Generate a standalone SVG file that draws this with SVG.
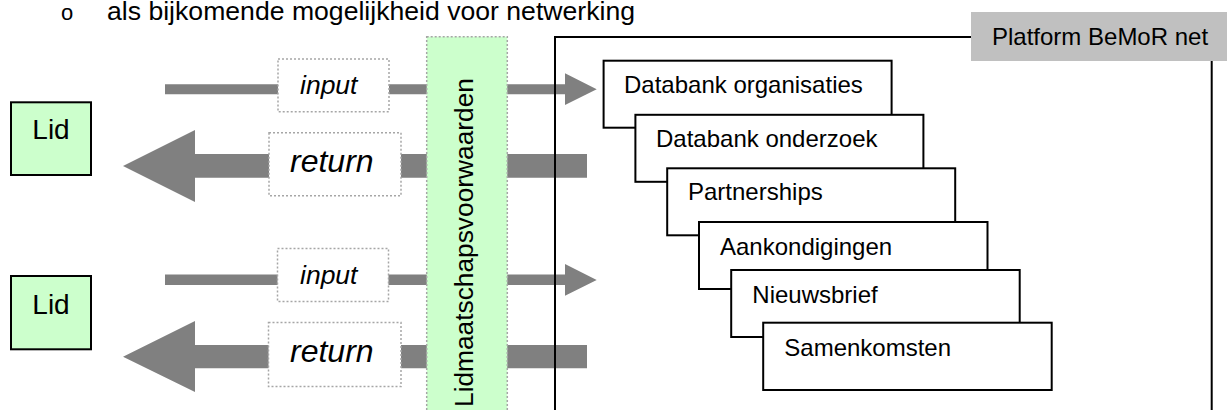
<svg xmlns="http://www.w3.org/2000/svg" width="1227" height="410" viewBox="0 0 1227 410">
<style>
text{font-family:"Liberation Sans",Arial,sans-serif;fill:#000}
.arrow{fill:#808080}
.dot{fill:#fff;stroke:#a6a6a6;stroke-width:1.5;stroke-dasharray:2 2}
.band{fill:#ccffcc;stroke:#a6a6a6;stroke-width:1.5;stroke-dasharray:2 2}
.lid{fill:#ccffcc;stroke:#000;stroke-width:2}
.card{fill:#fff;stroke:#000;stroke-width:2}
.it{font-style:italic}
</style>
<g id="heading">
<text x="61" y="19.5" font-size="22">o</text>
<text x="107" y="19.5" font-size="25.5" textLength="528" lengthAdjust="spacingAndGlyphs">als bijkomende mogelijkheid voor netwerking</text>
</g>
<g id="connectors">
<polygon class="arrow" points="165,84.3 565,84.3 565,73.3 596.7,89.3 565,105 565,94.3 165,94.3"/>
<polygon class="arrow" points="587,154 195,154 195,130 123,166 195,202 195,177.7 587,177.7"/>
<polygon class="arrow" points="165,274.5 565,274.5 565,264 596.7,280 565,295.7 565,285 165,285"/>
<polygon class="arrow" points="587,345 195,345 195,321 123,356.7 195,392 195,368.3 587,368.3"/>
</g>
<g id="band">
<rect class="band" x="426.7" y="36.7" width="80.6" height="390"/>
<text font-size="26.3" transform="translate(473,407) rotate(-90)">Lidmaatschapsvoorwaarden</text>
</g>
<g id="input1">
<rect class="dot" x="278" y="59" width="111" height="52.7"/>
<text class="it" x="300" y="93.5" font-size="26.5">input</text>
</g>
<g id="return1">
<rect class="dot" x="269" y="132.7" width="132" height="63"/>
<text class="it" x="290" y="171.5" font-size="32">return</text>
</g>
<g id="input2">
<rect class="dot" x="277.5" y="248.5" width="111" height="53"/>
<text class="it" x="300" y="283.5" font-size="26.5">input</text>
</g>
<g id="return2">
<rect class="dot" x="268.5" y="322.5" width="132.5" height="64"/>
<text class="it" x="290" y="361.5" font-size="32">return</text>
</g>
<g id="platform">
<rect x="555" y="37" width="656.7" height="420" fill="none" stroke="#000" stroke-width="2"/>
<rect x="971" y="12" width="260" height="49" fill="#c0c0c0"/>
<text x="992" y="45" font-size="24">Platform BeMoR net</text>
</g>
<g id="card1">
<rect class="card" x="603.6" y="60.7" width="288" height="67"/>
<text x="624" y="92.5" font-size="24">Databank organisaties</text>
</g>
<g id="card2">
<rect class="card" x="635.4" y="114.8" width="288" height="67"/>
<text x="656" y="146.7" font-size="24">Databank onderzoek</text>
</g>
<g id="card3">
<rect class="card" x="667.2" y="168.3" width="288" height="67"/>
<text x="688" y="200" font-size="24">Partnerships</text>
</g>
<g id="card4">
<rect class="card" x="699" y="222" width="288.5" height="67"/>
<text x="720" y="255" font-size="24">Aankondigingen</text>
</g>
<g id="card5">
<rect class="card" x="731.2" y="270" width="288.5" height="67"/>
<text x="752.3" y="302.7" font-size="24">Nieuwsbrief</text>
</g>
<g id="card6">
<rect class="card" x="763.2" y="322.7" width="288.5" height="67.3"/>
<text x="784.3" y="355.7" font-size="24">Samenkomsten</text>
</g>
<g id="lid1">
<rect class="lid" x="11" y="102.3" width="80" height="72.7"/>
<text x="51" y="139" font-size="28" text-anchor="middle">Lid</text>
</g>
<g id="lid2">
<rect class="lid" x="11" y="276" width="80" height="73.3"/>
<text x="51" y="314" font-size="28" text-anchor="middle">Lid</text>
</g>
</svg>
